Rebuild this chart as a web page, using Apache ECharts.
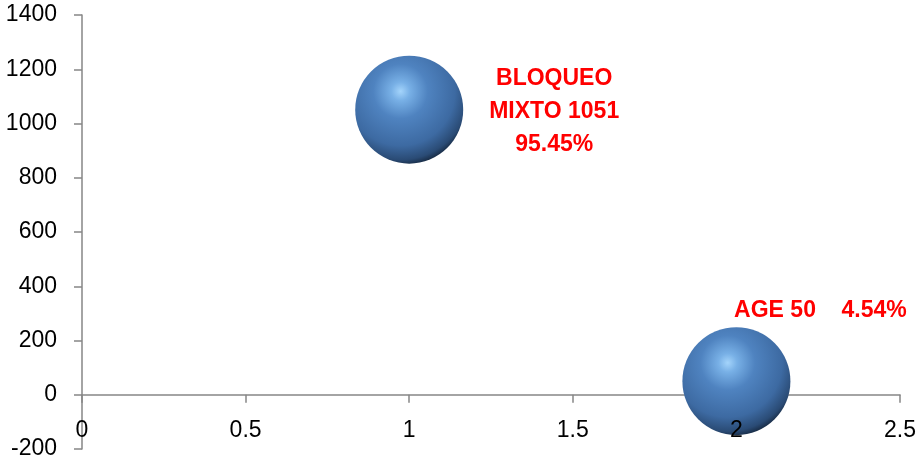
<!DOCTYPE html>
<html>
<head>
<meta charset="utf-8">
<script src="https://cdn.jsdelivr.net/npm/echarts@6/dist/echarts.min.js"></script>
<style>html,body{margin:0;padding:0;background:#fff;}#c{width:917px;height:460px;}</style>
</head>
<body>
<div id="c"></div>
<script>
var xValues = [1, 2];
var yValues = [1051, 50];
var pointLabels = ['BLOQUEO\nMIXTO 1051\n95.45%', 'AGE 50    4.54%'];
var labelOffsets = [[145, 2], [84, -71]];

var sphere = {
  type: 'radial', x: 0.42, y: 0.33, r: 0.72,
  colorStops: [
    {offset: 0, color: '#a4d4fb'},
    {offset: 0.12, color: '#78b0e6'},
    {offset: 0.35, color: '#4f83c0'},
    {offset: 0.7, color: '#3d6aa2'},
    {offset: 0.88, color: '#2a4b75'},
    {offset: 1, color: '#0e1a2a'}
  ]
};

var data = xValues.map(function (x, i) {
  return {
    value: [x, yValues[i]],
    label: {
      show: true,
      formatter: pointLabels[i],
      position: 'inside',
      offset: labelOffsets[i],
      align: 'center',
      verticalAlign: 'middle',
      color: '#ff0000',
      fontWeight: 'bold',
      fontSize: 23,
      lineHeight: 33,
      fontFamily: 'Liberation Sans'
    }
  };
});

function plain(v) { return String(v); }
var axisFont = {fontFamily: 'Liberation Sans', fontSize: 23, color: '#000', formatter: plain};
var chart = echarts.init(document.getElementById('c'));
chart.setOption({
  animation: false,
  grid: {left: 82, right: 17, top: 15, bottom: 11, containLabel: false, outerBoundsMode: 'none'},
  xAxis: [{
    type: 'value', min: 0, max: 2.5, interval: 0.5,
    axisLine: {show: true, onZero: true, lineStyle: {color: '#868686', width: 1.5}},
    axisTick: {show: true, length: 8, lineStyle: {color: '#868686', width: 1.5}},
    axisLabel: {show: false},
    splitLine: {show: false}
  }, {
    type: 'value', min: 0, max: 2.5, interval: 0.5, position: 'bottom', offset: -54.25, z: 10,
    axisLine: {show: false, onZero: false},
    axisTick: {show: false},
    axisLabel: Object.assign({show: true, margin: 24}, axisFont),
    splitLine: {show: false}
  }],
  yAxis: {
    type: 'value', min: -200, max: 1400, interval: 200,
    axisLine: {show: true, onZero: false, lineStyle: {color: '#868686', width: 1.5}},
    axisTick: {show: true, length: 8, lineStyle: {color: '#868686', width: 1.5}},
    axisLabel: Object.assign({margin: 25}, axisFont),
    splitLine: {show: false}
  },
  series: [{
    type: 'scatter',
    xAxisIndex: 0,
    symbol: 'circle',
    symbolSize: 108,
    itemStyle: {color: sphere, opacity: 1},
    data: data
  }]
});
</script>
</body>
</html>
